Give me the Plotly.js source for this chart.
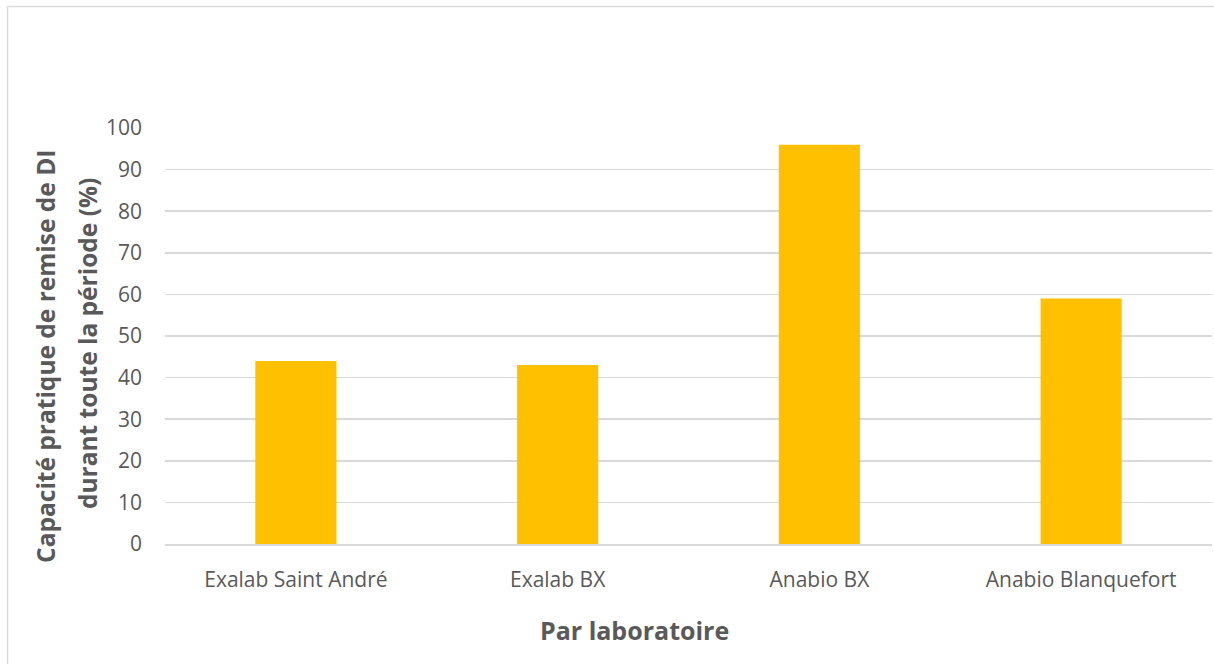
<!DOCTYPE html>
<html>
<head>
<meta charset="utf-8">
<script src="https://cdn.plot.ly/plotly-3.0.1.min.js"></script>
<style>html,body{margin:0;padding:0;background:#fff;}#chart{width:1214px;height:664px;}</style>
</head>
<body>
<div id="chart"></div>
<script>
const categories = ["Exalab Saint André", "Exalab BX", "Anabio BX", "Anabio Blanquefort"];
const values = [44, 43, 96, 59];
const yTickVals = [0, 10, 20, 30, 40, 50, 60, 70, 80, 90, 100];
const yTitleLine1 = "Capacité pratique de remise de DI";
const yTitleLine2 = "durant toute la période (%)";
const xTitle = "Par laboratoire";

const textColor = "#595959";
const gridColor = "#D9D9D9";
const fontFam = "'Open Sans', sans-serif";

const trace = {
  type: "bar",
  x: categories,
  y: values,
  marker: {color: "#FFC000"},
  width: 0.31,
  hoverinfo: "x+y"
};

const layout = {
  width: 1214,
  height: 664,
  margin: {l: 165, r: 2, t: 128, b: 120},
  paper_bgcolor: "#ffffff",
  plot_bgcolor: "#ffffff",
  showlegend: false,
  font: {family: fontFam, color: textColor, size: 21},
  xaxis: {
    type: "category",
    showgrid: false,
    showline: true,
    linecolor: gridColor,
    linewidth: 1.5,
    ticks: "",
    ticklabelstandoff: 16,
    tickfont: {family: fontFam, size: 21, color: textColor},
    zeroline: false,
    fixedrange: true
  },
  yaxis: {
    range: [0, 100],
    tickvals: yTickVals,
    showgrid: true,
    gridcolor: gridColor,
    gridwidth: 1.5,
    zeroline: false,
    showline: false,
    ticks: "",
    ticklabelstandoff: 22,
    tickfont: {family: fontFam, size: 21, color: textColor},
    fixedrange: true
  },
  annotations: [
    {text: yTitleLine1, xref: "paper", yref: "paper", x: -0.1137, y: 0.452,
     xanchor: "center", yanchor: "middle", textangle: -90, showarrow: false,
     font: {family: fontFam, size: 24.5, color: textColor, weight: "bold"}},
    {text: yTitleLine2, xref: "paper", yref: "paper", x: -0.0735, y: 0.4808,
     xanchor: "center", yanchor: "middle", textangle: -90, showarrow: false,
     font: {family: fontFam, size: 24.5, color: textColor, weight: "bold"}},
    {text: xTitle, xref: "paper", yref: "paper", x: 0.448, y: -0.2067,
     xanchor: "center", yanchor: "middle", showarrow: false,
     font: {family: fontFam, size: 25, color: textColor, weight: "bold"}}
  ],
  shapes: [
    {type: "rect", xref: "paper", yref: "paper", x0: -0.1504, x1: 1.2, y0: -0.6, y1: 1.292,
     line: {color: gridColor, width: 1.5}, fillcolor: "rgba(0,0,0,0)", layer: "below"}
  ]
};

Plotly.newPlot("chart", [trace], layout, {displayModeBar: false, staticPlot: true});
</script>
</body>
</html>
